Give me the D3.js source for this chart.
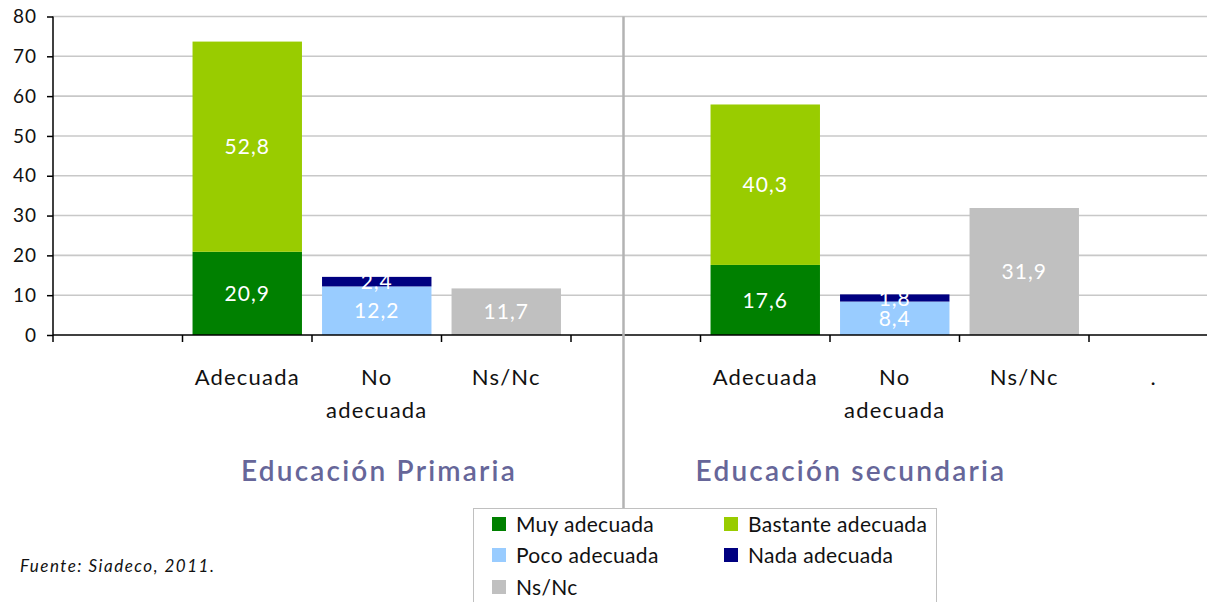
<!DOCTYPE html>
<html><head><meta charset="utf-8">
<script src="https://cdn.jsdelivr.net/npm/d3@7"></script>
<style>
html,body{margin:0;padding:0;background:#fff;overflow:hidden}
text{font-family:Lato,"Open Sans",sans-serif}
</style></head>
<body><svg id="c" width="1207" height="602"></svg>
<script>
// ---- data ----
const slots = [0,1,2,3,4,5,6,7,8];
const xLabels = ["", "Adecuada", "No|adecuada", "Ns/Nc", "", "Adecuada", "No|adecuada", "Ns/Nc", "."];
const groupTitles = ["Educación Primaria", "Educación secundaria"];
const seriesNames = ["Muy adecuada", "Bastante adecuada", "Poco adecuada", "Nada adecuada", "Ns/Nc"];
const muyAdecuada      = [0, 20.9, 0, 0, 0, 17.6, 0, 0, 0];
const bastanteAdecuada = [0, 52.8, 0, 0, 0, 40.3, 0, 0, 0];
const pocoAdecuada     = [0, 0, 12.2, 0, 0, 0, 8.4, 0, 0];
const nadaAdecuada     = [0, 0, 2.4, 0, 0, 0, 1.8, 0, 0];
const nsNc             = [0, 0, 0, 11.7, 0, 0, 0, 31.9, 0];
const yTicks = [0,10,20,30,40,50,60,70,80];
const colors = ["#008000", "#99cc00", "#99ccff", "#000080", "#c0c0c0"];
const source = "Fuente: Siadeco, 2011.";

// ---- layout ----
const svg = d3.select("#c");
const mLeft = 53, mTop = 16.5, mBottom = 335, step = 129.5;
const x = d3.scaleBand().domain(slots).range([mLeft, mLeft + step*slots.length]).paddingInner(0.155).paddingOuter(0.0775);
const y = d3.scaleLinear().domain([0, 80]).range([mBottom, mTop]);

// grid
svg.append("g").selectAll("line").data(yTicks.filter(d=>d>0)).join("line")
  .attr("x1", mLeft).attr("x2", 1207).attr("y1", d=>y(d)).attr("y2", d=>y(d))
  .attr("stroke", "#c8c8c8").attr("stroke-width", 1.6);

// stacked bars
const table = slots.map(i => ({i, v0: muyAdecuada[i], v1: bastanteAdecuada[i], v2: pocoAdecuada[i], v3: nadaAdecuada[i], v4: nsNc[i]}));
const stack = d3.stack().keys(["v0","v1","v2","v3","v4"]);
const layers = stack(table);
const fmt = v => d3.format(".1f")(v).replace(".", ",");
layers.forEach((layer, k) => {
  const segs = layer.filter(s => s[1] - s[0] > 0);
  svg.append("g").selectAll("rect").data(segs).join("rect")
    .attr("x", s => x(s.data.i)).attr("width", x.bandwidth())
    .attr("y", s => y(s[1])).attr("height", s => y(s[0]) - y(s[1]))
    .attr("fill", colors[k]);
});
layers.forEach((layer, k) => {
  const segs = layer.filter(s => s[1] - s[0] > 0);
  svg.append("g").selectAll("text").data(segs).join("text")
    .attr("x", s => x(s.data.i) + x.bandwidth()/2)
    .attr("y", s => (y(s[0]) + y(s[1]))/2)
    .attr("dy", "0.36em").attr("text-anchor", "middle")
    .attr("fill", "#fff").attr("font-size", 21).attr("letter-spacing", 1)
    .text(s => fmt(s[1]-s[0]));
});

// y axis
const yAxis = d3.axisLeft(y).tickValues(yTicks).tickSize(6).tickPadding(10).tickFormat(d3.format("d"));
const ya = svg.append("g").attr("transform", `translate(${mLeft},0)`).call(yAxis);
ya.select(".domain").attr("d", `M0,${mTop}V${mBottom+7}`).attr("stroke", "#000").attr("stroke-width", 1.5);
ya.selectAll(".tick line").attr("stroke", "#000").attr("stroke-width", 1.5);
ya.selectAll(".tick text").attr("font-size", 19).attr("letter-spacing", 1).attr("fill", "#111").attr("font-family", "Lato");

// x axis line + ticks at band boundaries
svg.append("line").attr("x1", mLeft).attr("x2", 1207).attr("y1", mBottom).attr("y2", mBottom).attr("stroke", "#000").attr("stroke-width", 1.5);
svg.append("g").selectAll("line").data(slots.slice(1)).join("line")
  .attr("x1", d => x(d) - x.step()*x.paddingInner()/2).attr("x2", d => x(d) - x.step()*x.paddingInner()/2)
  .attr("y1", mBottom).attr("y2", mBottom+7).attr("stroke", "#000").attr("stroke-width", 1.5);

// category labels
const cl = svg.append("g").selectAll("text").data(slots.filter(i => xLabels[i])).join("text")
  .attr("x", i => x(i) + x.bandwidth()/2).attr("y", 385)
  .attr("text-anchor", "middle").attr("font-size", 22).attr("letter-spacing", 1.2).attr("fill", "#111");
cl.each(function(i){
  const parts = xLabels[i].split("|");
  d3.select(this).selectAll("tspan").data(parts).join("tspan")
    .attr("x", x(i) + x.bandwidth()/2).attr("dy", (d,j) => j ? 33 : 0).text(d => d);
});

// group titles
const titleX = [379, 851];
svg.append("g").selectAll("text").data(groupTitles).join("text")
  .attr("x", (d,g) => titleX[g])
  .attr("y", 481).attr("text-anchor", "middle")
  .attr("font-size", 28).attr("font-weight", 600).attr("letter-spacing", 2.2)
  .attr("fill", "#666699").text(d => d);

// divider
svg.append("line").attr("x1", 623.5).attr("x2", 623.5).attr("y1", mTop).attr("y2", 510)
  .attr("stroke", "#b3b3b3").attr("stroke-width", 2.5);

// legend
const lg = svg.append("g");
lg.append("rect").attr("x", 473.5).attr("y", 508.5).attr("width", 463).attr("height", 110)
  .attr("fill", "#fff").attr("stroke", "#c0c0c0").attr("stroke-width", 1);
const lpos = [[492,524],[724,524],[492,555],[724,555],[492,587]];
seriesNames.forEach((n,k) => {
  lg.append("rect").attr("x", lpos[k][0]).attr("y", lpos[k][1]-7).attr("width", 14).attr("height", 14).attr("fill", colors[k]);
  lg.append("text").attr("x", lpos[k][0]+24).attr("y", lpos[k][1]).attr("dy", "0.36em")
    .attr("font-size", 21).attr("letter-spacing", 0.3).attr("fill", "#111").text(n);
});

// source
svg.append("text").attr("x", 20).attr("y", 572).attr("font-size", 17).attr("font-style", "italic")
  .attr("letter-spacing", 1.5).attr("fill", "#111").text(source);
</script></body></html>
